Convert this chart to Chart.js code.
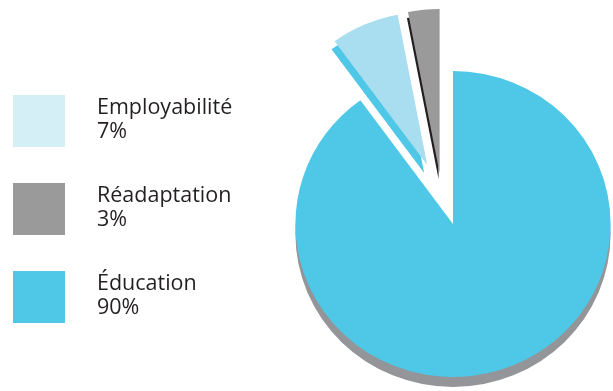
<!DOCTYPE html>
<html>
<head>
<meta charset="utf-8">
<script src="https://cdn.jsdelivr.net/npm/chart.js@4.4.1/dist/chart.umd.min.js"></script>
<style>
  html, body { margin: 0; padding: 0; background: #fff; }
  #wrap { position: relative; width: 613px; height: 391px; overflow: hidden; }
  #pie { position: absolute; left: 0; top: 0; }
  .legend { position: absolute; left: 0; top: 0; font-family: "Open Sans", sans-serif; color: #231f20; }
  .item { position: absolute; left: 13px; }
  .swatch { position: absolute; left: 0; top: 0; width: 52px; height: 52px; }
  .txt { position: absolute; left: 84px; top: -1px; font-size: 21.5px; line-height: 24px; white-space: nowrap; }
</style>
</head>
<body>
<div id="wrap">
  <canvas id="pie" width="613" height="391"></canvas>
  <div class="legend" id="legend"></div>
</div>
<script>
// Données (ordre de la légende)
const categories = ['Employabilité', 'Réadaptation', 'Éducation'];
const values = [7, 3, 90];
const percentLabels = ['7%', '3%', '90%'];

// Couleurs
const sliceColors = ['#a9def0', '#9a9a9a', '#4fc7e7'];
const sideColors = ['#4fc7e7', '#231f20', '#939598'];
const legendColors = ['#d5eff7', '#9a9a9a', '#4fc7e7'];

// Décalage des parts détachées (px), rayon supplémentaire, épaisseur
const shiftX = [-25, -13, 0];
const shiftY = [-59, -51, 0];
const extraRadius = [0, 11, 0];
const depthX = [-3, -1, 0];
const depthY = [8, 6, 10];
const stretchX = 1.03;

// Légende HTML
const legendEl = document.getElementById('legend');
const legendTops = [95, 183, 271];
categories.forEach((cat, i) => {
    const item = document.createElement('div');
    item.className = 'item';
    item.style.top = legendTops[i] + 'px';
    item.innerHTML = `<div class="swatch" style="background:${legendColors[i]}"></div>
        <div class="txt">${cat}<br>${percentLabels[i]}</div>`;
    legendEl.appendChild(item);
});

// Plugin : parts détachées + épaisseur (ombre)
const explodePlugin = {
    id: 'explode',
    beforeDatasetDraw(chart) {
        const ctx = chart.ctx;
        const arcs = chart.getDatasetMeta(0).data;
        if (!arcs.length) return;
        // léger étirement horizontal autour du centre
        const c = arcs[0];
        ctx.save();
        ctx.translate(c.x, c.y);
        ctx.scale(stretchX, 1);
        ctx.translate(-c.x, -c.y);

        arcs.forEach((arc, i) => {
            arc._saved = { x: arc.x, y: arc.y, r: arc.outerRadius };
            arc.x += shiftX[i];
            arc.y += shiftY[i];
            arc.outerRadius += extraRadius[i];
        });
        // côté / ombre sous chaque part
        arcs.forEach((arc, i) => {
            const cx = arc.x + depthX[i], cy = arc.y + depthY[i];
            ctx.fillStyle = sideColors[i];
            ctx.beginPath();
            ctx.moveTo(cx, cy);
            ctx.arc(cx, cy, arc.outerRadius, arc.startAngle, arc.endAngle);
            ctx.closePath();
            ctx.fill();
        });
    },
    afterDatasetDraw(chart) {
        const arcs = chart.getDatasetMeta(0).data;
        if (!arcs.length) return;
        arcs.forEach(arc => {
            if (arc._saved) {
                arc.x = arc._saved.x;
                arc.y = arc._saved.y;
                arc.outerRadius = arc._saved.r;
            }
        });
        chart.ctx.restore();
    }
};

new Chart(document.getElementById('pie'), {
    type: 'pie',
    data: {
        labels: categories,
        datasets: [{
            data: values,
            backgroundColor: sliceColors,
            borderWidth: 0,
            clip: false
        }]
    },
    options: {
        responsive: false,
        animation: false,
        rotation: -36,
        radius: 153,
        layout: { padding: { left: 293, right: 0, top: 57, bottom: 0 } },
        plugins: {
            legend: { display: false },
            tooltip: { enabled: false }
        }
    },
    plugins: [explodePlugin]
});
</script>
</body>
</html>
